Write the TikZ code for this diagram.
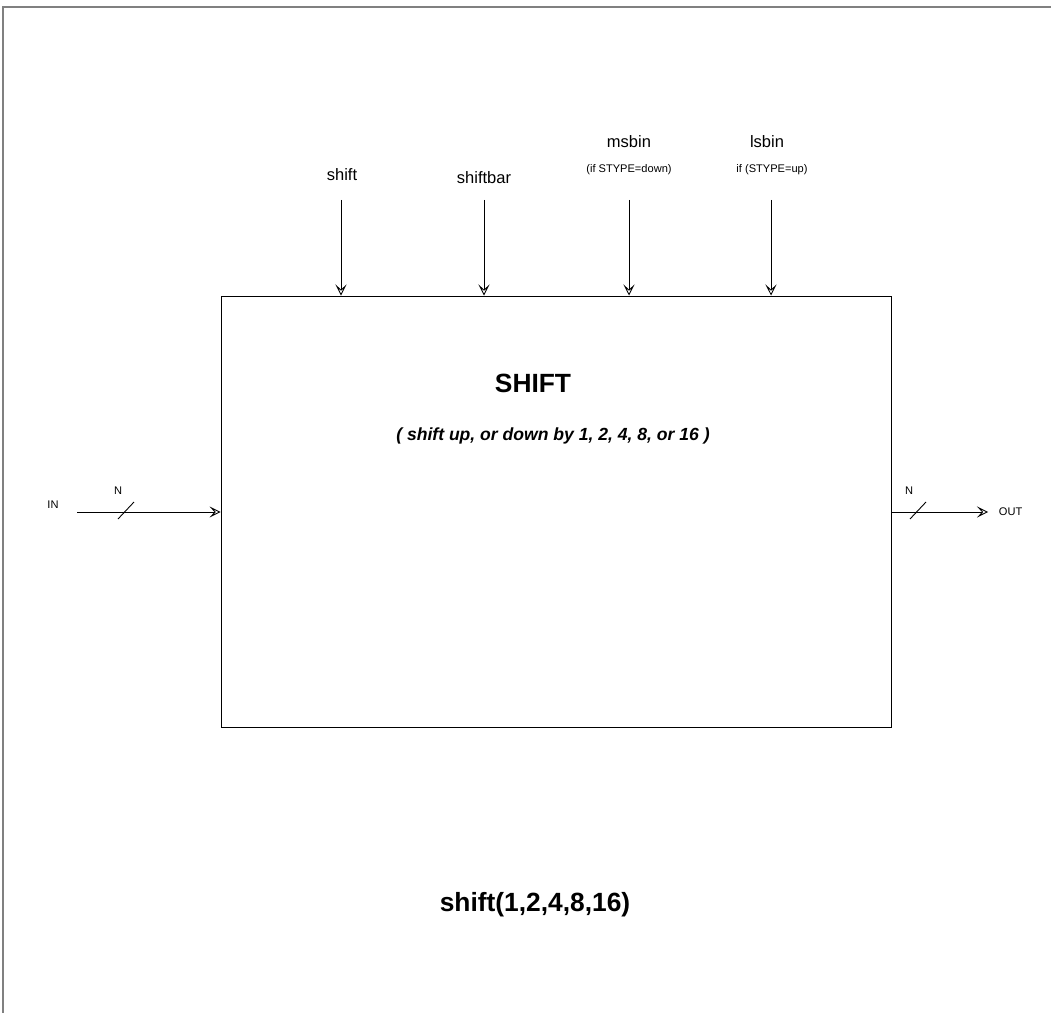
\documentclass[tikz,border=0pt]{standalone}
\usepackage{fontspec}
\setmainfont{Liberation Sans}
\usepackage{tikz}
\usetikzlibrary{arrows.meta,positioning}

\begin{document}
\begin{tikzpicture}[x=0.02cm,y=-0.02cm,
    sig/.style={line width=0.5pt,-{Stealth[open,length=0.22cm,width=0.22cm,inset=0.1cm]}},
    lbl/.style={inner sep=0pt,font=\fontsize{9.4}{11}\selectfont},
    note/.style={inner sep=0pt,font=\fontsize{6.3}{8}\selectfont}]
    \useasboundingbox (0,0) rectangle (1051,1013);

    % Frame
    \draw[line width=0.6pt,gray] (1051,7) -- (3,7) -- (3,1013);

    % Block
    \node[draw,line width=0.6pt,minimum width=13.42cm,minimum height=8.64cm,inner sep=0pt] (shiftblk) at (556.5,512) {};
    \node[inner sep=0pt,font=\fontsize{15}{18}\selectfont\bfseries] (title) at (533,383) {SHIFT};
    \node[inner sep=0pt,font=\fontsize{10}{12}\selectfont\bfseries\itshape] (sub) at (553,436) {( shift up, or down by 1, 2, 4, 8, or 16 )};

    % Top inputs
    \node[lbl] (shift) at (342,175) {shift};
    \node[lbl] (shiftbar) at (484,178) {shiftbar};
    \node[lbl] (msbin) at (629,142) {msbin};
    \node[note] (msnote) at (629,170) {(if STYPE=down)};
    \node[lbl] (lsbin) at (767,142) {lsbin};
    \node[note] (lsnote) at (772,170) {if (STYPE=up)};
    \coordinate (s1) at (341,200);
    \coordinate (s2) at (484,200);
    \coordinate (s3) at (629,200);
    \coordinate (s4) at (771,200);
    \foreach \c in {s1,s2,s3,s4}
        \draw[sig] (\c) -- (\c |- shiftblk.north);

    % Data in / out
    \node[note] (in) at (53,505) {IN};
    \coordinate (inend) at (77,512);
    \draw[sig] (inend) -- (shiftblk.west);
    \node[note] (nin) at (118,491) {N};
    \draw[line width=0.5pt] (118,519) -- (134,502);

    \coordinate (outend) at (988,512);
    \draw[sig] (shiftblk.east |- outend) -- (outend);
    \node[note,right=6pt of outend] (out) {OUT};
    \node[note] (nout) at (909,491) {N};
    \draw[line width=0.5pt] (910,519) -- (926,502);

    % Caption
    \node[inner sep=0pt,font=\fontsize{15}{18}\selectfont\bfseries] (cap) at (535,905) {shift(1,2,4,8,16)};
\end{tikzpicture}
\end{document}
